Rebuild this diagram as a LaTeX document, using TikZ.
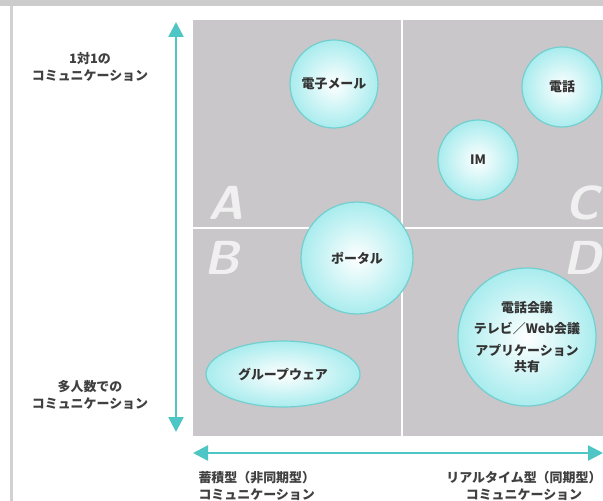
\documentclass[tikz,border=0pt]{standalone}
\usepackage{fontspec}
\newfontfamily\cjk{Noto Sans CJK JP}
\usetikzlibrary{arrows.meta,shapes.geometric}
\definecolor{quad}{HTML}{C9C7C9}
\definecolor{teal}{HTML}{4EC6C6}
\definecolor{rim}{HTML}{72CFCF}
\definecolor{bub}{HTML}{A9ECEE}
\tikzset{
  bubble/.style={draw=rim, line width=1.2bp, inner color=white, outer color=bub},
  lbl/.style={font=\cjk\bfseries\fontsize{13}{15}\selectfont, text=black!80, align=center},
  axlbl/.style={font=\cjk\bfseries\fontsize{13}{16.5}\selectfont, text=black!75, align=center},
  letter/.style={font=\sffamily\bfseries\itshape\fontsize{48}{48}\selectfont, text=white, opacity=0.75},
  axis/.style={draw=teal, line width=2.5bp, {Triangle[width=15bp,length=15bp]}-{Triangle[width=15bp,length=15bp]}}
}
\begin{document}
\begin{tikzpicture}[x=1bp,y=-1bp]
\useasboundingbox (0,0) rectangle (603,501);
\fill[white] (0,0) rectangle (603,501);
\fill[black!20] (0,0) rectangle (603,6);
\fill[black!18] (10,6) rectangle (13,501);
% quadrants
\fill[quad] (193,20) rectangle (603,436);
\draw[white, line width=2.5bp] (402,20) -- (402,436);
\draw[white, line width=2.5bp] (193,228) -- (603,228);
% letters
\node[letter] (la) at (226,203) {A};
\node[letter] (lb) at (222,258) {B};
\node[letter] (lc) at (582,203) {C};
\node[letter] (ld) at (582,258) {D};
% axes
\coordinate (vt) at (176,22);
\coordinate (vb) at (176,432);
\coordinate (hl) at (193,453);
\coordinate (hr) at (603,453);
\draw[axis] (vt) -- (vb);
\draw[axis] (hl) -- (hr);
% axis labels
\node[axlbl] (t1) at (90,67) {1対1の\\コミュニケーション};
\node[axlbl] (t2) at (90,395) {多人数での\\コミュニケーション};
\node[axlbl, anchor=west, align=left] (t3) at (195,486) {蓄積型（非同期型）\\コミュニケーション};
\node[axlbl, anchor=east] (t4) at (605,486) {リアルタイム型（同期型）\\コミュニケーション};
% bubbles
\node[bubble, circle, minimum size=88bp, lbl] (mail) at (334,84) {電子メール};
\node[bubble, circle, minimum size=80bp, lbl] (tel) at (562,87) {電話};
\node[bubble, circle, minimum size=80bp, lbl] (im) at (478,160) {IM};
\node[bubble, circle, minimum size=112bp, lbl] (portal) at (357,258) {ポータル};
\node[bubble, circle, minimum size=138bp, lbl, font=\cjk\bfseries\fontsize{13}{22}\selectfont] (conf) at (527,337) {電話会議\\テレビ／Web会議\\アプリケーション\\[-6bp]共有};
\node[bubble, ellipse, minimum width=154bp, minimum height=66bp, lbl] (gw) at (283,374) {グループウェア};
\end{tikzpicture}
\end{document}
